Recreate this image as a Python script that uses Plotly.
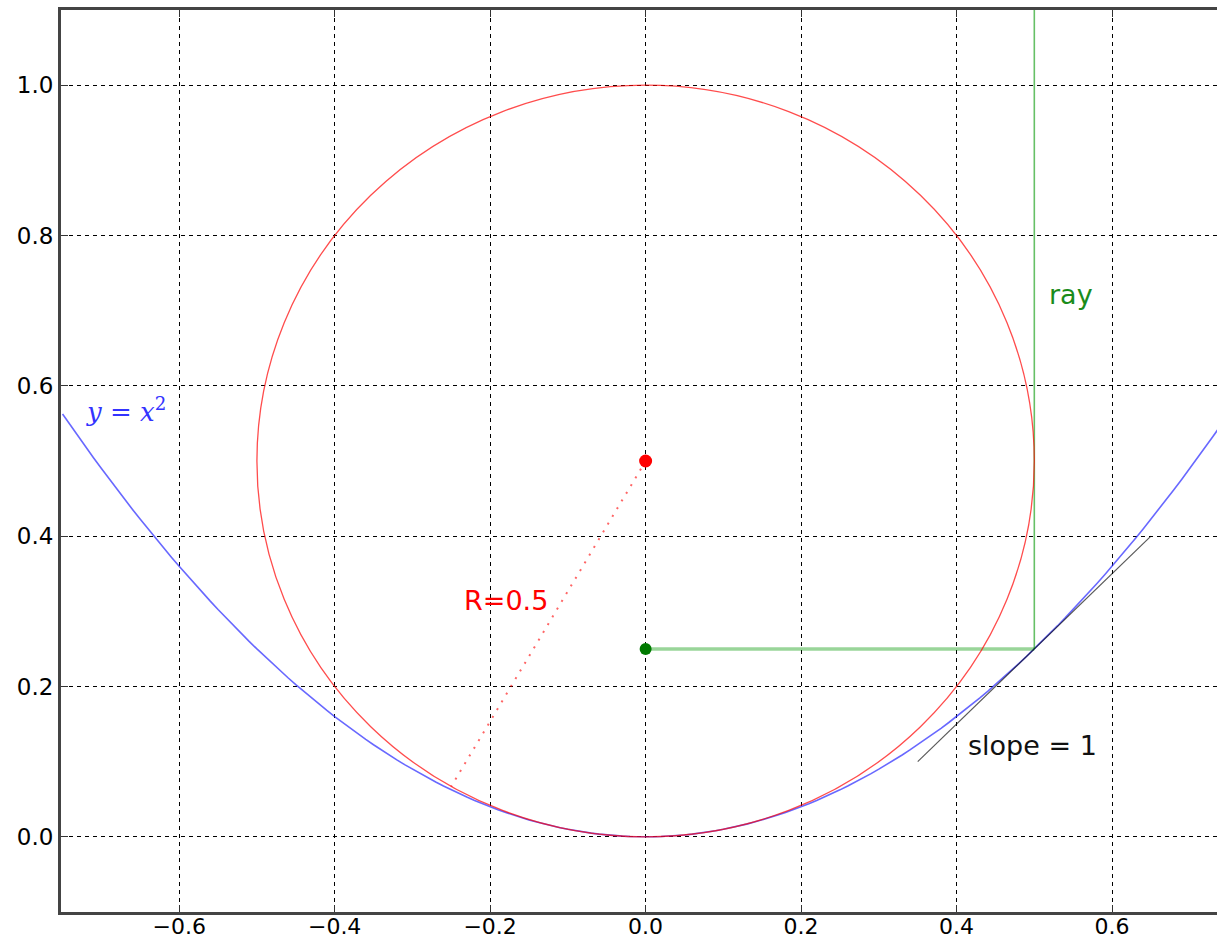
import numpy as np
import plotly.graph_objects as go

# ---- data ----
parab_x = np.linspace(-0.75, 0.75, 151)
parab_y = parab_x ** 2                     # y = x^2

circle_center = (0.0, 0.5)
circle_radius = 0.5

radius_x = [0.0, -0.25]
radius_y = [0.5, 0.0670]

focus_x = [0.0]
focus_y = [0.25]

hray_x = [0.0, 0.5]
hray_y = [0.25, 0.25]

vray_x = [0.5, 0.5]
vray_y = [0.25, 1.2]

tangent_x = [0.35, 0.65]
tangent_y = [0.10, 0.40]

x_ticks = [-0.6, -0.4, -0.2, 0.0, 0.2, 0.4, 0.6]
x_ticklabels = ["\u22120.6", "\u22120.4", "\u22120.2", "0.0", "0.2", "0.4", "0.6"]
y_ticks = [0.0, 0.2, 0.4, 0.6, 0.8, 1.0]
y_ticklabels = ["0.0", "0.2", "0.4", "0.6", "0.8", "1.0"]

FONT = "DejaVu Sans"

fig = go.Figure()

fig.add_shape(type="circle", xref="x", yref="y",
              x0=circle_center[0] - circle_radius, x1=circle_center[0] + circle_radius,
              y0=circle_center[1] - circle_radius, y1=circle_center[1] + circle_radius,
              line=dict(color="rgba(255,0,0,0.7)", width=1.3), layer="above")

fig.add_trace(go.Scatter(x=parab_x, y=parab_y, mode="lines",
                         line=dict(color="rgba(40,40,255,0.7)", width=1.6)))
fig.add_trace(go.Scatter(x=radius_x, y=radius_y, mode="lines",
                         line=dict(color="rgba(255,0,0,0.6)", width=2, dash="2px,7px")))
fig.add_trace(go.Scatter(x=hray_x, y=hray_y, mode="lines",
                         line=dict(color="rgba(0,150,0,0.4)", width=3.5)))
fig.add_trace(go.Scatter(x=vray_x, y=vray_y, mode="lines",
                         line=dict(color="rgba(0,150,0,0.6)", width=1.6)))
fig.add_trace(go.Scatter(x=tangent_x, y=tangent_y, mode="lines",
                         line=dict(color="rgba(0,0,0,0.65)", width=1.2)))
fig.add_trace(go.Scatter(x=[circle_center[0]], y=[circle_center[1]], mode="markers",
                         marker=dict(color="#ff0000", size=13)))
fig.add_trace(go.Scatter(x=focus_x, y=focus_y, mode="markers",
                         marker=dict(color="#007a00", size=12)))

fig.add_annotation(x=-0.669, y=0.568, text="<i>y</i> = <i>x</i><sup>2</sup>", showarrow=False,
                   font=dict(family="DejaVu Serif", size=26, color="#3333ff"))
fig.add_annotation(x=-0.180, y=0.315, text="R=0.5", showarrow=False,
                   font=dict(family=FONT, size=27, color="#ff0000"))
fig.add_annotation(x=0.547, y=0.722, text="ray", showarrow=False,
                   font=dict(family=FONT, size=27, color="#1a8c1a"))
fig.add_annotation(x=0.498, y=0.122, text="slope = 1", showarrow=False,
                   font=dict(family=FONT, size=27, color="#111111"))

axis_common = dict(showgrid=True, gridcolor="black", gridwidth=1, griddash="4px,4px",
                   zeroline=False, ticks="inside", ticklen=7, tickcolor="#333",
                   showline=True, linecolor="#444", linewidth=3, automargin=False)

fig.update_xaxes(range=[-0.752, 0.735], tickvals=x_ticks, ticktext=x_ticklabels,
                 mirror="ticks", ticklabelstandoff=-7,
                 tickfont=dict(family=FONT, size=22, color="black"), **axis_common)
fig.update_yaxes(range=[-0.1, 1.1], tickvals=y_ticks, ticktext=y_ticklabels,
                 mirror=False, tickfont=dict(family=FONT, size=23, color="black"),
                 **axis_common)

fig.update_layout(width=1217, height=942, showlegend=False,
                  plot_bgcolor="white", paper_bgcolor="white",
                  margin=dict(l=61, r=0, t=10, b=30))

fig.write_html("out.html", config={"displayModeBar": False},
               post_script="document.body.style.margin='0';document.body.style.padding='0';"
                           "document.body.style.overflow='hidden';"
                           "document.documentElement.style.overflow='hidden';")
